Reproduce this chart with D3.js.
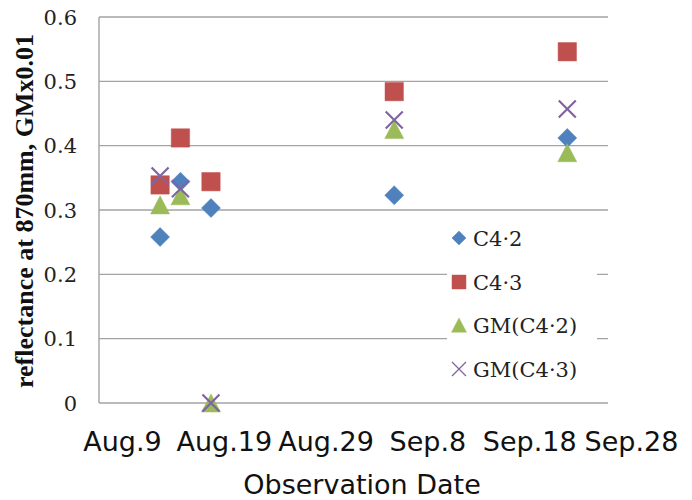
<!DOCTYPE html>
<html>
<head>
<meta charset="utf-8">
<script src="https://cdn.jsdelivr.net/npm/d3@7"></script>
<style>
  body { margin: 0; background: #fff; }
  svg { display: block; }
</style>
</head>
<body>
<div id="graphic"></div>
<script>
var width = 692;
var height = 500;
var plotLeft = 99, plotRight = 608, plotTop = 17, plotBottom = 403;

// data
var obsDates = ["2011-08-15", "2011-08-17", "2011-08-20", "2011-09-07", "2011-09-24"];
var c42 = [0.258, 0.344, 0.303, 0.323, 0.412];
var c43 = [0.339, 0.412, 0.344, 0.484, 0.546];
var gm42 = [0.308, 0.322, 0, 0.425, 0.389];
var gm43 = [0.353, 0.333, 0, 0.440, 0.457];
var seriesNames = ["C4\u00b72", "C4\u00b73", "GM(C4\u00b72)", "GM(C4\u00b73)"];
var xTickLabels = ["Aug.9", "Aug.19", "Aug.29", "Sep.8", "Sep.18", "Sep.28"];
var yTicks = [0, 0.1, 0.2, 0.3, 0.4, 0.5, 0.6];

var parseDate = d3.timeParse("%Y-%m-%d");
var colors = ["#4F81BD", "#C0504D", "#9BBB59", "#8064A2"];
var shapes = ["diamond", "square", "triangle", "cross"];

var svg = d3.select("#graphic").append("svg")
  .attr("width", width)
  .attr("height", height);

var xScale = d3.scaleTime()
  .domain([parseDate("2011-08-09"), parseDate("2011-09-28")])
  .range([plotLeft, plotRight]);

var yScale = d3.scaleLinear()
  .domain([0, 0.6])
  .range([plotBottom, plotTop]);

var xTicks = d3.range(6).map(i => d3.timeDay.offset(parseDate("2011-08-09"), i * 10));

// gridlines
svg.append("g")
  .selectAll("line")
  .data(yTicks)
  .join("line")
  .attr("x1", plotLeft)
  .attr("x2", plotRight)
  .attr("y1", d => yScale(d))
  .attr("y2", d => yScale(d))
  .attr("stroke", "#a3a3a3")
  .attr("stroke-width", 1.4);

svg.append("line")
  .attr("x1", plotLeft).attr("x2", plotLeft)
  .attr("y1", plotTop).attr("y2", plotBottom)
  .attr("stroke", "#a3a3a3")
  .attr("stroke-width", 1.4);

// y tick labels
svg.append("g")
  .selectAll("text")
  .data(yTicks)
  .join("text")
  .attr("x", 77)
  .attr("y", d => yScale(d))
  .attr("dy", "0.36em")
  .attr("text-anchor", "end")
  .style("font-family", "DejaVu Serif")
  .style("font-size", "21px")
  .attr("fill", "#222")
  .text(d => d === 0 ? "0" : d.toFixed(1));

// x axis labels
var xAxis = d3.axisBottom(xScale)
  .tickValues(xTicks)
  .tickSize(0)
  .tickFormat((d, i) => xTickLabels[i]);

var xg = svg.append("g")
  .attr("transform", "translate(0," + plotBottom + ")")
  .call(xAxis);
xg.select(".domain").remove();
xg.selectAll("text")
  .attr("y", 0)
  .attr("dy", 0)
  .attr("x", 23)
  .attr("transform", "translate(0,48)")
  .style("font-family", "DejaVu Sans")
  .style("font-size", "27px")
  .attr("fill", "#111");

// axis titles
svg.append("text")
  .attr("x", 362)
  .attr("y", 494)
  .attr("text-anchor", "middle")
  .style("font-family", "DejaVu Sans")
  .style("font-size", "27px")
  .attr("fill", "#111")
  .text("Observation Date");

svg.append("text")
  .attr("transform", "translate(33,211) rotate(-90)")
  .attr("text-anchor", "middle")
  .style("font-family", "Liberation Serif")
  .style("font-weight", "bold")
  .style("font-size", "26px")
  .attr("fill", "#111")
  .text("reflectance at 870mm, GMx0.01");

// marker drawing
function markerPath(shape, s) {
  if (shape === "diamond") return "M0," + (-s) + "L" + s + ",0L0," + s + "L" + (-s) + ",0Z";
  if (shape === "square") return "M" + (-s) + "," + (-s) + "H" + s + "V" + s + "H" + (-s) + "Z";
  if (shape === "triangle") return "M0," + (-s * 0.95) + "L" + s + "," + (s * 0.95) + "L" + (-s) + "," + (s * 0.95) + "Z";
  return "M" + (-s) + "," + (-s) + "L" + s + "," + s + "M" + s + "," + (-s) + "L" + (-s) + "," + s;
}

function drawMarker(g, shape, color, s, sw) {
  var p = g.append("path").attr("d", markerPath(shape, s));
  if (shape === "cross") {
    p.attr("fill", "none").attr("stroke", color).attr("stroke-width", sw);
  } else {
    p.attr("fill", color).attr("stroke", color).attr("stroke-width", 0.8)
      .attr("stroke-linejoin", "round").attr("stroke-opacity", 0.6);
  }
}

var allSeries = [c42, c43, gm42, gm43];
var markerSizes = [9.5, 9.2, 9.5, 8.5];

allSeries.forEach(function(values, si) {
  var g = svg.append("g");
  values.forEach(function(v, i) {
    var mg = g.append("g")
      .attr("transform", "translate(" + xScale(parseDate(obsDates[i])) + "," + yScale(v) + ")");
    drawMarker(mg, shapes[si], colors[si], markerSizes[si], 2.2);
  });
});

// legend
var legend = svg.append("g");
legend.append("rect")
  .attr("x", 447).attr("y", 218)
  .attr("width", 150).attr("height", 170)
  .attr("fill", "#fff");

var legendY = [238, 282, 325, 369];
var legendSizes = [7, 7, 7.5, 7];
seriesNames.forEach(function(name, i) {
  var lg = legend.append("g").attr("transform", "translate(459," + legendY[i] + ")");
  drawMarker(lg, shapes[i], colors[i], legendSizes[i], 1.3);
  legend.append("text")
    .attr("x", 473)
    .attr("y", legendY[i] + 7.5)
    .style("font-family", "DejaVu Serif")
    .style("font-size", "21px")
    .attr("fill", "#222")
    .text(name);
});
</script>
</body>
</html>
